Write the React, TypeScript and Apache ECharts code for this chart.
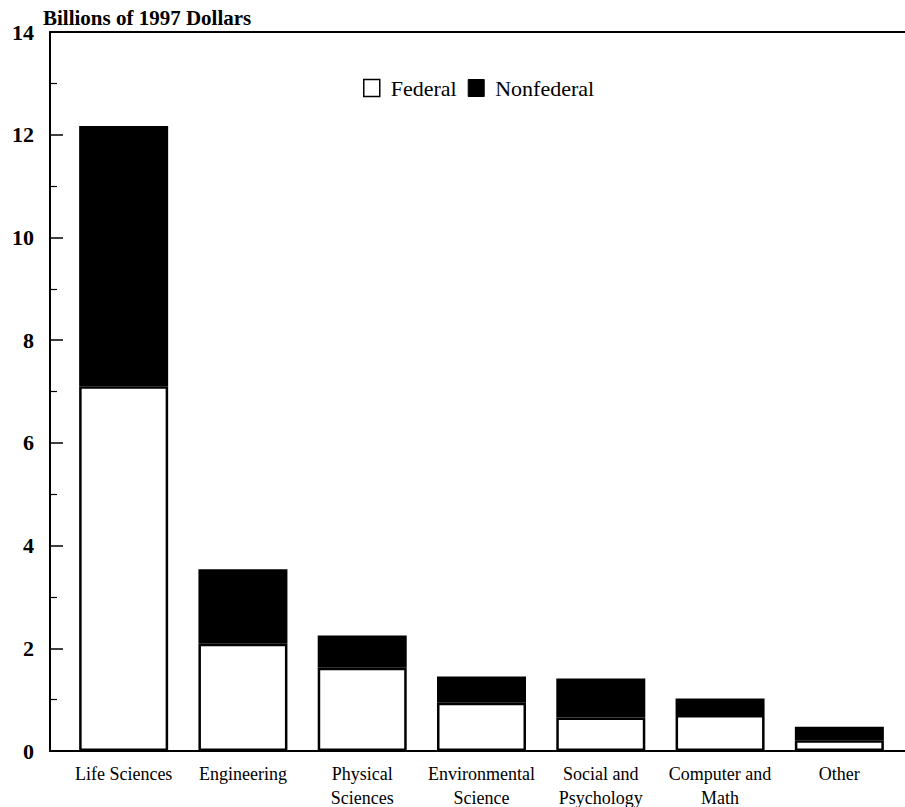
import React, { useEffect, useRef } from "react";
import * as echarts from "echarts";

const categories = [
  "Life Sciences",
  "Engineering",
  "Physical\nSciences",
  "Environmental\nScience",
  "Social and\nPsychology",
  "Computer and\nMath",
  "Other",
];
const federal = [7.1, 2.09, 1.62, 0.94, 0.65, 0.7, 0.21];
const nonfederal = [5.07, 1.45, 0.63, 0.51, 0.76, 0.32, 0.26];
const yMin = 0;
const yMax = 14;
const yInterval = 2;

const SERIF = "'Liberation Serif', 'Times New Roman', serif";

export default function App() {
  const ref = useRef<HTMLDivElement>(null);
  useEffect(() => {
    if (!ref.current) return;
    const chart = echarts.init(ref.current, undefined, { renderer: "svg" });
    const top = 32;
    const bottom = 56;
    chart.setOption({
      animation: false,
      backgroundColor: "#ffffff",
      title: {
        text: "Billions of 1997 Dollars",
        left: 43,
        top: 7,
        padding: 0,
        textStyle: { fontFamily: SERIF, fontWeight: "bold", fontSize: 21, color: "#000" },
      },
      legend: {
        left: 363,
        top: 77,
        padding: 0,
        itemWidth: 16,
        itemHeight: 17,
        itemGap: 11,
        icon: "rect",
        textStyle: { fontFamily: SERIF, fontSize: 22, color: "#000", padding: [0, 0, 0, 6] },
        data: [
          { name: "Federal", itemStyle: { color: "#fff", borderColor: "#000", borderWidth: 1.5 } },
          { name: "Nonfederal", itemStyle: { color: "#000", borderColor: "#000", borderWidth: 1 } },
        ],
      },
      grid: [
        { left: 50, right: 0, top, bottom, outerBoundsMode: "none", containLabel: false },
        { left: 64, right: 6, top, bottom, outerBoundsMode: "none", containLabel: false },
      ],
      xAxis: [
        {
          gridIndex: 0,
          type: "value",
          min: 0,
          max: 1,
          position: "bottom",
          axisLine: { show: true, lineStyle: { color: "#000", width: 2 } },
          axisTick: { show: false },
          axisLabel: { show: false },
          splitLine: { show: false },
        },
        {
          gridIndex: 0,
          type: "value",
          min: 0,
          max: 1,
          position: "top",
          axisLine: { show: true, lineStyle: { color: "#000", width: 2 } },
          axisTick: { show: false },
          axisLabel: { show: false },
          splitLine: { show: false },
        },
        {
          gridIndex: 1,
          type: "category",
          data: categories,
          axisLine: { show: false },
          axisTick: { show: false },
          axisLabel: {
            margin: 11,
            fontFamily: SERIF,
            fontSize: 18,
            color: "#000",
            lineHeight: 24,
            interval: 0,
          },
        },
      ],
      yAxis: [
        {
          gridIndex: 0,
          type: "value",
          min: yMin,
          max: yMax,
          interval: yInterval,
          axisLine: { show: true, lineStyle: { color: "#000", width: 2 } },
          axisTick: { show: true, inside: true, length: 13, lineStyle: { color: "#000", width: 1.5 } },
          minorTick: { show: true, splitNumber: 2, length: 7, lineStyle: { color: "#000", width: 1.2 } },
          axisLabel: {
            margin: 16,
            fontFamily: SERIF,
            fontWeight: "bold",
            fontSize: 22,
            color: "#000",
          },
          splitLine: { show: false },
        },
        {
          gridIndex: 1,
          type: "value",
          min: yMin,
          max: yMax,
          interval: yInterval,
          show: false,
          splitLine: { show: false },
        },
      ],
      series: [
        {
          name: "Federal",
          type: "bar",
          stack: "total",
          xAxisIndex: 2,
          yAxisIndex: 1,
          barWidth: 89,
          data: federal,
          itemStyle: { color: "#fff", borderColor: "#000", borderWidth: 2.5 },
        },
        {
          name: "Nonfederal",
          type: "bar",
          stack: "total",
          xAxisIndex: 2,
          yAxisIndex: 1,
          barWidth: 89,
          data: nonfederal,
          itemStyle: { color: "#000", borderColor: "#000", borderWidth: 2.5 },
        },
      ],
    });
    return () => chart.dispose();
  }, []);
  return (
    <div
      ref={ref}
      style={{ position: "fixed", left: 0, top: 0, width: 905, height: 807 }}
    />
  );
}
